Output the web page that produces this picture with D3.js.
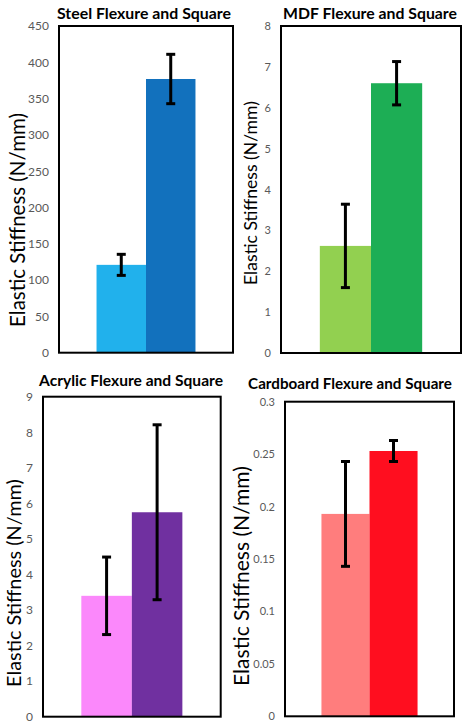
<!DOCTYPE html>
<html>
<head>
<meta charset="utf-8">
<script src="https://cdn.jsdelivr.net/npm/d3@7"></script>
<style>
  body { margin: 0; background: #fff; }
  svg { display: block; }
</style>
</head>
<body>
<svg id="chart" width="462" height="721"></svg>
<script>
// data
var designs = ["Flexure", "Square"];

var steelValues = [121, 377];
var steelErrors = [14.5, 34];
var steelTicks = [0, 50, 100, 150, 200, 250, 300, 350, 400, 450];

var mdfValues = [2.62, 6.6];
var mdfErrors = [1.02, 0.53];
var mdfTicks = [0, 1, 2, 3, 4, 5, 6, 7, 8];

var acrylicValues = [3.4, 5.75];
var acrylicErrors = [1.09, 2.46];
var acrylicTicks = [0, 1, 2, 3, 4, 5, 6, 7, 8, 9];

var cardboardValues = [0.193, 0.253];
var cardboardErrors = [0.05, 0.01];
var cardboardTicks = [0, 0.05, 0.1, 0.15, 0.2, 0.25, 0.3];

var yLabel = "Elastic Stiffness (N/mm)";

// panel layout (pixel boxes of each small chart)
var panels = [
  { title: "Steel Flexure and Square", values: steelValues, errors: steelErrors, ticks: steelTicks,
    colors: ["#21b1ec", "#1271bd"],
    box: [59, 26, 233, 352.7], titleX: 144, titleY: 12, titleW: 174,
    labelX: 17, labelY: 220, labelW: 214, tickFont: 12 },
  { title: "MDF Flexure and Square", values: mdfValues, errors: mdfErrors, ticks: mdfTicks,
    colors: ["#92d050", "#1dae55"],
    box: [281, 26, 461, 353], titleX: 370, titleY: 12, titleW: 174,
    labelX: 250, labelY: 193, labelW: 184, tickFont: 11 },
  { title: "Acrylic Flexure and Square", values: acrylicValues, errors: acrylicErrors, ticks: acrylicTicks,
    colors: ["#fb88fb", "#7030a0"],
    box: [43, 396.7, 220.7, 716.7], titleX: 131, titleY: 380, titleW: 184,
    labelX: 13, labelY: 583, labelW: 208, tickFont: 12 },
  { title: "Cardboard Flexure and Square", values: cardboardValues, errors: cardboardErrors, ticks: cardboardTicks,
    colors: ["#ff7d7d", "#ff0e1f"],
    box: [285, 401.7, 454, 716.3], titleX: 350, titleY: 383, titleW: 204,
    labelX: 240, labelY: 576, labelW: 220, tickFont: 11 }
];

var svg = d3.select("#chart");

// scale a text element's font so it spans the wanted width
function fitText(sel, target) {
  var base = 14;
  sel.style("font-size", base + "px");
  var len = sel.node().getComputedTextLength();
  sel.style("font-size", (base * target / len) + "px");
}

panels.forEach(function(p) {
  var left = p.box[0], top = p.box[1], right = p.box[2], bottom = p.box[3];
  var ymax = p.ticks[p.ticks.length - 1];

  var y = d3.scaleLinear()
    .domain([0, ymax])
    .range([bottom, top]);

  var outer = d3.scaleBand()
    .domain(["group"])
    .range([left, right])
    .padding(0.275);

  var x = d3.scaleBand()
    .domain(designs)
    .range([outer("group"), outer("group") + outer.bandwidth()]);

  var g = svg.append("g");

  // bars
  g.selectAll("rect.bar")
    .data(p.values)
    .join("rect")
    .attr("class", "bar")
    .attr("x", function(d, i) { return x(designs[i]); })
    .attr("y", function(d) { return y(d); })
    .attr("width", x.bandwidth())
    .attr("height", function(d) { return y(0) - y(d); })
    .attr("fill", function(d, i) { return p.colors[i]; });

  // error bars
  var eb = g.selectAll("g.err")
    .data(p.values)
    .join("g")
    .attr("class", "err")
    .attr("stroke", "#000")
    .attr("stroke-width", 3);

  eb.append("line")
    .attr("x1", function(d, i) { return x(designs[i]) + x.bandwidth() / 2; })
    .attr("x2", function(d, i) { return x(designs[i]) + x.bandwidth() / 2; })
    .attr("y1", function(d, i) { return y(d - p.errors[i]); })
    .attr("y2", function(d, i) { return y(d + p.errors[i]); });

  [-1, 1].forEach(function(sign) {
    eb.append("line")
      .attr("x1", function(d, i) { return x(designs[i]) + x.bandwidth() / 2 - 4.5; })
      .attr("x2", function(d, i) { return x(designs[i]) + x.bandwidth() / 2 + 4.5; })
      .attr("y1", function(d, i) { return y(d + sign * p.errors[i]); })
      .attr("y2", function(d, i) { return y(d + sign * p.errors[i]); });
  });

  // frame
  g.append("rect")
    .attr("x", left)
    .attr("y", top)
    .attr("width", right - left)
    .attr("height", bottom - top)
    .attr("fill", "none")
    .attr("stroke", "#000")
    .attr("stroke-width", 2);

  // y axis
  var axis = g.append("g")
    .attr("transform", "translate(" + left + ",0)")
    .call(d3.axisLeft(y).tickValues(p.ticks).tickSize(0).tickPadding(10)
      .tickFormat(function(d) { return String(d); }));
  axis.select(".domain").remove();
  axis.selectAll("text")
    .attr("fill", "#595959")
    .style("font-family", "Lato, 'Open Sans', sans-serif")
    .style("font-size", p.tickFont + "px");

  // title
  var t = g.append("text")
    .attr("x", p.titleX)
    .attr("y", p.titleY)
    .attr("text-anchor", "middle")
    .attr("dominant-baseline", "central")
    .style("font-family", "Lato, 'Open Sans', sans-serif")
    .style("font-weight", "bold")
    .attr("fill", "#000")
    .text(p.title);
  fitText(t, p.titleW);

  // y label
  var yl = g.append("text")
    .attr("transform", "translate(" + p.labelX + "," + p.labelY + ")rotate(-90)")
    .attr("text-anchor", "middle")
    .attr("dominant-baseline", "central")
    .style("font-family", "Lato, 'Open Sans', sans-serif")
    .attr("fill", "#000")
    .text(yLabel);
  fitText(yl, p.labelW);
});
</script>
</body>
</html>
